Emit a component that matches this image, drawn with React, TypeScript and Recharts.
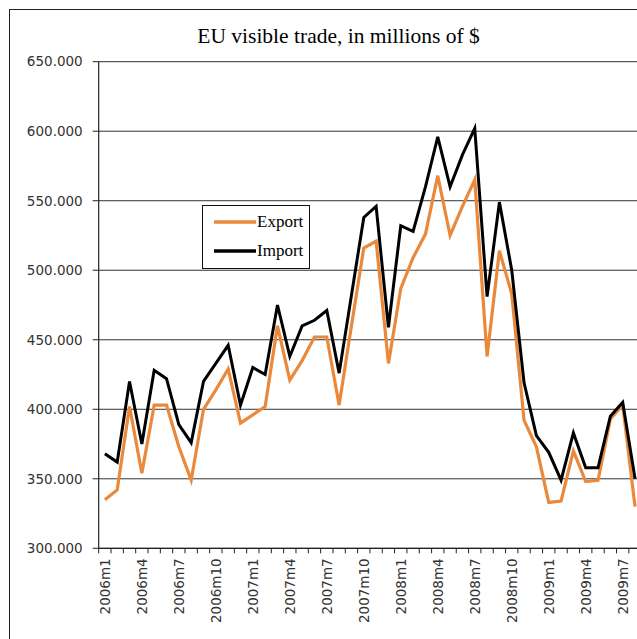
import React from "react";
import { LineChart, Line, XAxis, YAxis, CartesianGrid, Legend } from "recharts";

const categories: string[] = [
  "2006m1", "2006m2", "2006m3", "2006m4", "2006m5", "2006m6", "2006m7", "2006m8", "2006m9", "2006m10", "2006m11", "2006m12",
  "2007m1", "2007m2", "2007m3", "2007m4", "2007m5", "2007m6", "2007m7", "2007m8", "2007m9", "2007m10", "2007m11", "2007m12",
  "2008m1", "2008m2", "2008m3", "2008m4", "2008m5", "2008m6", "2008m7", "2008m8", "2008m9", "2008m10", "2008m11", "2008m12",
  "2009m1", "2009m2", "2009m3", "2009m4", "2009m5", "2009m6", "2009m7", "2009m8",
];

// values in millions of $
const exportValues: number[] = [
  335000, 342000, 402000, 354000, 403000, 403000, 373000, 349000, 400000, 414000, 429000, 390000,
  396000, 402000, 460000, 421000, 435000, 452000, 452000, 403000, 460000, 516000, 521000, 433000,
  487000, 509000, 526000, 568000, 525000, 546000, 565000, 438000, 514000, 483000, 392000, 373000,
  333000, 334000, 370000, 348000, 349000, 393000, 403000, 330000,
];

const importValues: number[] = [
  368000, 362000, 420000, 375000, 428000, 422000, 389000, 376000, 420000, 433000, 446000, 403000,
  430000, 425000, 475000, 438000, 460000, 464000, 471000, 426000, 482000, 538000, 546000, 459000,
  532000, 528000, 560000, 596000, 560000, 583000, 602000, 481000, 549000, 500000, 419000, 381000,
  369000, 349000, 383000, 358000, 358000, 395000, 405000, 350000,
];

const yTicks: number[] = [300000, 350000, 400000, 450000, 500000, 550000, 600000, 650000];
const labelEvery = 3;
const seriesNames = { export: "Export", import: "Import" };
const title = "EU visible trade, in millions of $";

const EXPORT_COLOR = "#EA893B";
const IMPORT_COLOR = "#000000";
const AXIS_COLOR = "#222222";

const data = categories.map((c, i) => ({
  idx: i,
  label: c,
  Export: exportValues[i],
  Import: importValues[i],
}));

const xTicks: number[] = [];
categories.forEach((_, i) => {
  xTicks.push(i - 0.5, i);
});
xTicks.push(categories.length - 0.5);

const fmtY = (v: number) => String(v).replace(/\B(?=(\d{3})+(?!\d))/g, ".");

const XTick = (props: any) => {
  const { x, y, payload } = props;
  const v = payload.value as number;
  if (!Number.isInteger(v)) {
    return <line x1={x} x2={x} y1={y - 5} y2={y} stroke={AXIS_COLOR} strokeWidth={1} />;
  }
  if (v % labelEvery !== 0) return <g />;
  const ty = y + 5;
  return (
    <text
      x={x}
      y={ty}
      transform={`rotate(-90 ${x} ${ty})`}
      textAnchor="end"
      dominantBaseline="central"
      fontFamily="'DejaVu Sans', Verdana, sans-serif"
      fontSize={13.5}
      fill="#333"
    >
      {categories[v]}
    </text>
  );
};

const LegendBox = (props: any) => {
  const payload = props.payload || [];
  const rowsY = [16, 45];
  return (
    <div
      style={{
        width: 108,
        height: 64,
        border: "1.5px solid #111",
        background: "#fff",
        boxSizing: "border-box",
        position: "relative",
        fontFamily: "'Liberation Serif', 'Times New Roman', serif",
        fontSize: 17,
        color: "#000",
      }}
    >
      {payload.map((p: any, i: number) => (
        <div key={p.value} style={{ position: "absolute", left: 0, top: rowsY[i] - 11, height: 22, width: 106 }}>
          <svg width={54} height={22} style={{ position: "absolute", left: 0, top: 0 }}>
            <line x1={11} x2={53} y1={11} y2={11} stroke={p.color} strokeWidth={3.5} />
          </svg>
          <span style={{ position: "absolute", left: 54, top: 0, lineHeight: "22px" }}>{p.value}</span>
        </div>
      ))}
    </div>
  );
};

export default function App() {
  return (
    <div
      style={{
        position: "absolute",
        left: 0,
        top: 0,
        width: 637,
        height: 639,
        overflow: "hidden",
        background: "#fff",
      }}
    >
      <div
        style={{
          position: "absolute",
          left: 9,
          top: 9,
          width: 670,
          height: 680,
          border: "1.5px solid #222",
          boxSizing: "border-box",
        }}
      />
      <div
        style={{
          position: "absolute",
          left: 10,
          top: 23,
          width: 657,
          textAlign: "center",
          fontFamily: "'Liberation Serif', 'Times New Roman', serif",
          fontSize: 21.5,
          color: "#000",
          lineHeight: "26px",
          whiteSpace: "nowrap",
        }}
      >
        {title}
      </div>
      <div style={{ position: "absolute", left: 0, top: 0 }}>
        <LineChart
          width={700}
          height={700}
          data={data}
          margin={{ top: 61.7, right: 58.8, bottom: 51.7, left: 10.7 }}
        >
          <CartesianGrid vertical={false} stroke="#333" strokeWidth={1} />
          <XAxis
            dataKey="idx"
            type="number"
            domain={[-0.5, categories.length - 0.5]}
            ticks={xTicks}
            interval={0}
            tickLine={false}
            tickSize={5}
            tickMargin={0}
            tick={<XTick />}
            axisLine={{ stroke: AXIS_COLOR, strokeWidth: 1.2 }}
            height={100}
            allowDataOverflow
          />
          <YAxis
            domain={[300000, 650000]}
            ticks={yTicks}
            interval={0}
            tickFormatter={fmtY}
            width={88}
            tickSize={6}
            tickMargin={10}
            tickLine={{ stroke: AXIS_COLOR }}
            axisLine={{ stroke: AXIS_COLOR, strokeWidth: 1.2 }}
            tick={{ fontFamily: "'DejaVu Sans', Verdana, sans-serif", fontSize: 13.5, fill: "#333" }}
            allowDataOverflow
          />
          <Legend
            layout="vertical"
            align="center"
            verticalAlign="middle"
            width={108}
            content={<LegendBox />}
            wrapperStyle={{ left: 202, top: 205, width: 108 }}
          />
          <Line
            type="linear"
            dataKey="Export"
            name={seriesNames.export}
            stroke={EXPORT_COLOR}
            strokeWidth={3.2}
            dot={false}
            activeDot={false}
            isAnimationActive={false}
          />
          <Line
            type="linear"
            dataKey="Import"
            name={seriesNames.import}
            stroke={IMPORT_COLOR}
            strokeWidth={3}
            dot={false}
            activeDot={false}
            isAnimationActive={false}
          />
        </LineChart>
      </div>
    </div>
  );
}
